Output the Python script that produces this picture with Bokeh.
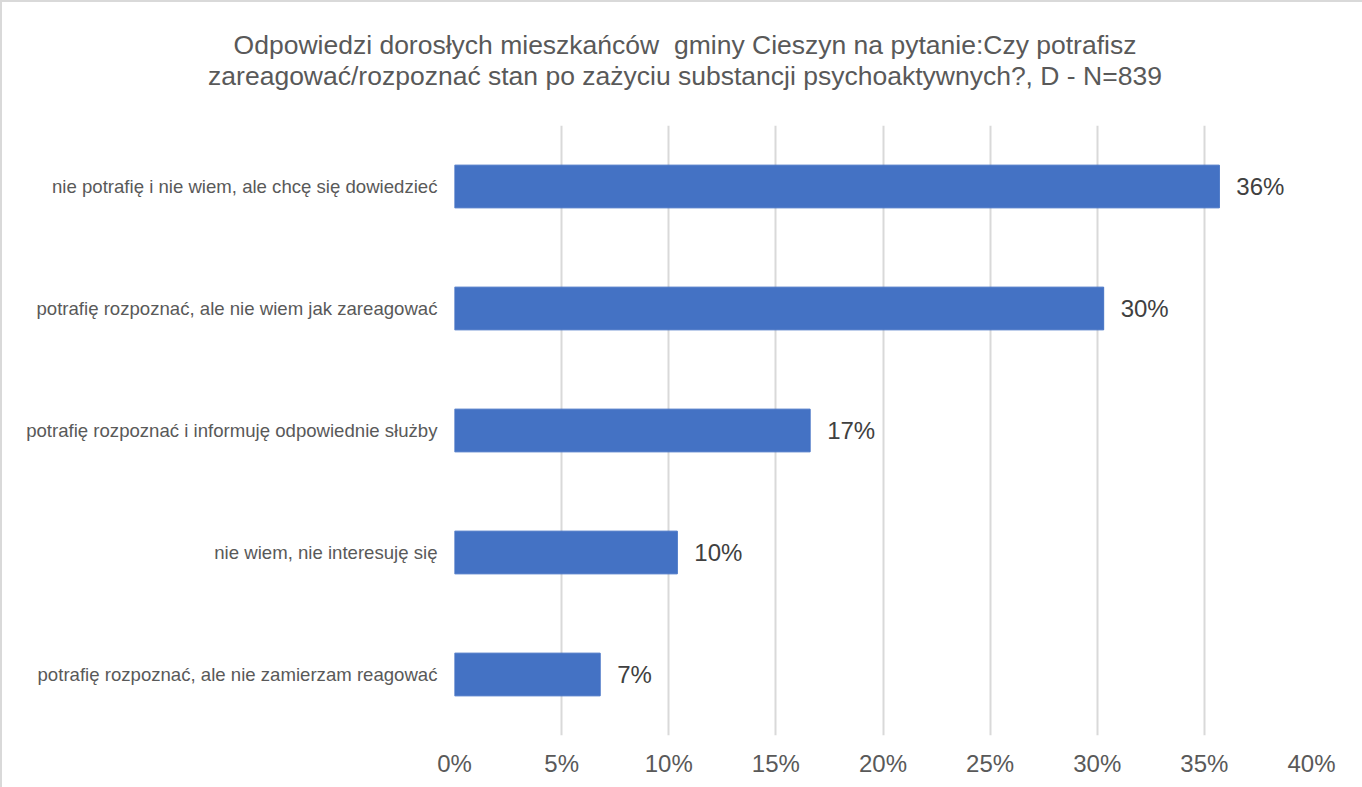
from bokeh.plotting import figure
from bokeh.models import ColumnDataSource, FactorRange, NumeralTickFormatter, FixedTicker, Div
from bokeh.layouts import column
from bokeh.embed import file_html
from bokeh.resources import INLINE
from bokeh.core.properties import value

title_lines = [
    "Odpowiedzi dorosłych mieszkańców&nbsp; gminy Cieszyn na pytanie:Czy potrafisz",
    "zareagować/rozpoznać stan po zażyciu substancji psychoaktywnych?, D - N=839",
]
categories = [
    "nie potrafię i nie wiem, ale chcę się dowiedzieć",
    "potrafię rozpoznać, ale nie wiem jak zareagować",
    "potrafię rozpoznać i informuję odpowiednie służby",
    "nie wiem, nie interesuję się",
    "potrafię rozpoznać, ale nie zamierzam reagować",
]
values = [0.357, 0.303, 0.166, 0.104, 0.068]
labels = ["36%", "30%", "17%", "10%", "7%"]
x_ticks = [0.0, 0.05, 0.10, 0.15, 0.20, 0.25, 0.30, 0.35, 0.40]

src = ColumnDataSource(dict(cat=categories, val=values, lab=labels))

title_div = Div(
    text=(
        '<div style="padding-top:23px; padding-left:6px; text-align:center; '
        'font-family:\'Liberation Sans\', Arial, sans-serif; font-size:26.5px; '
        'line-height:31px; color:#595959; width:1350px;">'
        + "<br>".join(title_lines) + "</div>"
    ),
    width=1350, height=100,
)

p = figure(
    y_range=FactorRange(factors=list(reversed(categories))),
    x_range=(0, 0.4),
    width=1350, height=679,
    output_backend="svg", toolbar_location=None,
    min_border_left=452, min_border_right=41,
    min_border_top=13, min_border_bottom=56,
)
p.outline_line_color = None
p.background_fill_color = "white"
p.border_fill_color = "white"

p.hbar(y="cat", right="val", left=0, height=0.35, source=src,
       fill_color="#4472C4", line_color="#4472C4")

p.text(x="val", y="cat", text="lab", source=src, x_offset=17,
       text_font=value("Liberation Sans"), text_font_size="24px",
       text_color="#404040", text_baseline="middle", text_align="left")

p.xaxis.ticker = FixedTicker(ticks=x_ticks)
p.xaxis.formatter = NumeralTickFormatter(format="0%")
p.xaxis.axis_line_color = None
p.xaxis.major_tick_line_color = None
p.xaxis.minor_tick_line_color = None
p.xaxis.major_tick_out = 0
p.xaxis.major_label_standoff = 14
p.xaxis.major_label_text_font = "Liberation Sans"
p.xaxis.major_label_text_font_size = "24px"
p.xaxis.major_label_text_color = "#595959"

p.yaxis.axis_line_color = None
p.yaxis.major_tick_line_color = None
p.yaxis.minor_tick_line_color = None
p.yaxis.major_tick_out = 0
p.yaxis.major_label_standoff = 17
p.yaxis.major_label_text_font = "Liberation Sans"
p.yaxis.major_label_text_font_size = "18.6px"
p.yaxis.major_label_text_color = "#595959"

p.xgrid.grid_line_color = "#d9d9d9"
p.xgrid.grid_line_width = 2
p.ygrid.grid_line_color = None

layout = column(title_div, p, spacing=0,
                styles={"border-top": "2px solid #d9d9d9", "border-left": "2px solid #d9d9d9"})

open("out.html", "w").write(file_html(layout, INLINE))
